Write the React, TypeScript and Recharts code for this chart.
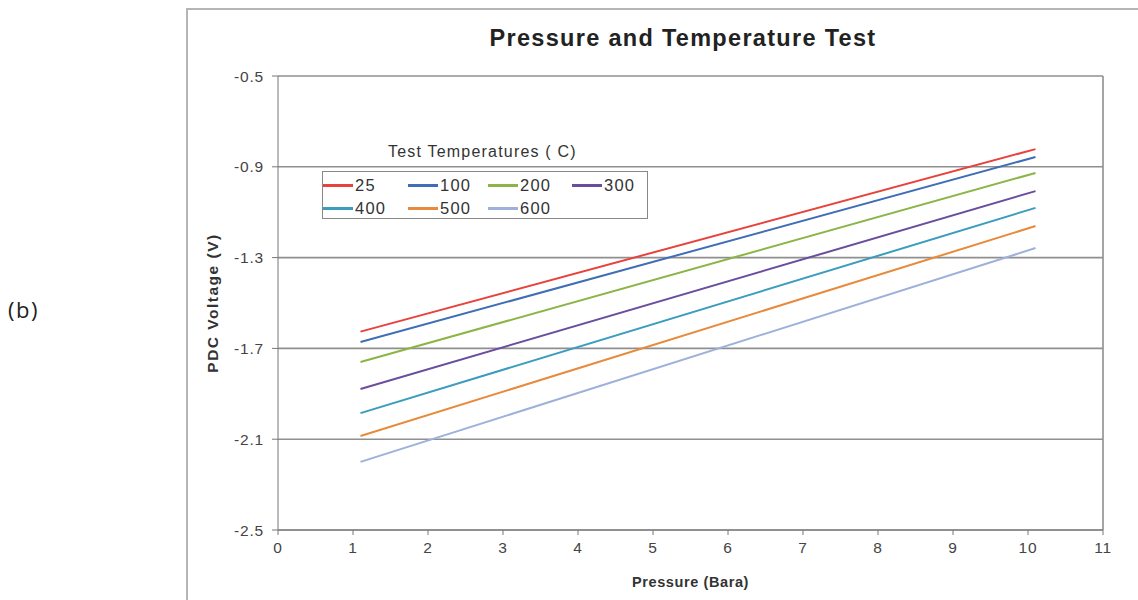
import { CartesianGrid, Legend, Line, LineChart, ReferenceLine, XAxis, YAxis } from 'recharts';

// pressure (Bara) at the two ends of each fitted line
const pressure = [1.1, 10.1];

const t25 = [-1.626, -0.822];
const t100 = [-1.672, -0.857];
const t200 = [-1.76, -0.927];
const t300 = [-1.879, -1.007];
const t400 = [-1.985, -1.081];
const t500 = [-2.086, -1.161];
const t600 = [-2.2, -1.258];

const xTicks = [0, 1, 2, 3, 4, 5, 6, 7, 8, 9, 10, 11];
const yTicks = [-2.5, -2.1, -1.7, -1.3, -0.9, -0.5];

const series = [
  { key: 't25', name: '25', values: t25, color: '#e8423d' },
  { key: 't100', name: '100', values: t100, color: '#3f6db6' },
  { key: 't200', name: '200', values: t200, color: '#8cb446' },
  { key: 't300', name: '300', values: t300, color: '#6a4d9e' },
  { key: 't400', name: '400', values: t400, color: '#3b9cbd' },
  { key: 't500', name: '500', values: t500, color: '#e88a3c' },
  { key: 't600', name: '600', values: t600, color: '#9db1da' },
];

const data = pressure.map((p, i) => {
  const row: Record<string, number> = { p };
  series.forEach((s) => (row[s.key] = s.values[i]));
  return row;
});

const font = '"Liberation Sans", Arial, sans-serif';
const tickStyle = { fill: '#444', fontSize: 15.5, fontFamily: font, letterSpacing: 0.8 };

function LegendBox() {
  return (
    <div style={{ fontFamily: font, color: '#333' }}>
      <div style={{ fontSize: 16, letterSpacing: 1.2, marginLeft: 66, height: 28, lineHeight: '18px' }}>
        Test Temperatures ( C)
      </div>
      <div
        style={{
          border: '1px solid #888',
          width: 326,
          height: 48,
          boxSizing: 'border-box',
          display: 'grid',
          gridTemplateColumns: '85px 80px 84px 70px',
          paddingTop: 2,
          fontSize: 16.5,
          letterSpacing: 1.2,
        }}
      >
        {series.map((s) => (
          <div key={s.key} style={{ display: 'flex', alignItems: 'center', height: 23 }}>
            <span style={{ display: 'inline-block', width: 30, height: 3, background: s.color, marginRight: 2 }} />
            <span>{s.name}</span>
          </div>
        ))}
      </div>
    </div>
  );
}

export default function App() {
  return (
    <div style={{ position: 'absolute', left: 0, top: 0, width: 1138, height: 600, background: '#fff', overflow: 'hidden' }}>
      <div
        style={{
          position: 'absolute',
          left: 186,
          top: 8,
          width: 1000,
          height: 700,
          borderLeft: '2px solid #b5b5b5',
          borderTop: '2px solid #b5b5b5',
        }}
      />
      <div style={{ position: 'absolute', left: 8, top: 294, fontFamily: '"Open Sans", sans-serif', fontSize: 22, letterSpacing: 1.5, color: '#222' }}>
        (b)
      </div>
      <div
        style={{
          position: 'absolute',
          left: 283,
          width: 800,
          top: 25,
          textAlign: 'center',
          fontFamily: font,
          fontWeight: 'bold',
          fontSize: 23.5,
          letterSpacing: 1.3,
          color: '#222',
        }}
      >
        Pressure and Temperature Test
      </div>
      <LineChart width={1138} height={600} data={data} margin={{ top: 76, right: 35, left: 218, bottom: 40 }}>
        <CartesianGrid vertical={false} stroke="#8f8f8f" strokeWidth={1.6} />
        <XAxis
          dataKey="p"
          type="number"
          domain={[0, 11]}
          ticks={xTicks}
          interval={0}
          stroke="#777"
          tickSize={5}
          tick={tickStyle}
          tickMargin={7}
          height={30}
          label={{ value: 'Pressure (Bara)', position: 'insideBottom', offset: -27, fill: '#333', fontSize: 14.5, letterSpacing: 0.6, fontWeight: 'bold', fontFamily: font }}
        />
        <YAxis
          type="number"
          domain={[-2.5, -0.5]}
          ticks={yTicks}
          interval={0}
          stroke="#777"
          tickSize={6}
          width={60}
          tick={tickStyle}
          tickMargin={8}
          label={{ value: 'PDC Voltage (V)', angle: -90, position: 'insideLeft', offset: -6, style: { textAnchor: 'middle' }, fill: '#333', fontSize: 15.5, letterSpacing: 1.5, fontWeight: 'bold', fontFamily: font }}
        />
        <ReferenceLine x={11} stroke="#8f8f8f" strokeWidth={1.6} />
        <Legend
          verticalAlign="middle"
          align="center"
          wrapperStyle={{ position: 'absolute', left: 322, top: 143, width: 340 }}
          content={() => <LegendBox />}
        />
        {series.map((s) => (
          <Line
            key={s.key}
            dataKey={s.key}
            name={s.name}
            stroke={s.color}
            strokeWidth={2}
            dot={false}
            type="linear"
            isAnimationActive={false}
          />
        ))}
      </LineChart>
    </div>
  );
}
